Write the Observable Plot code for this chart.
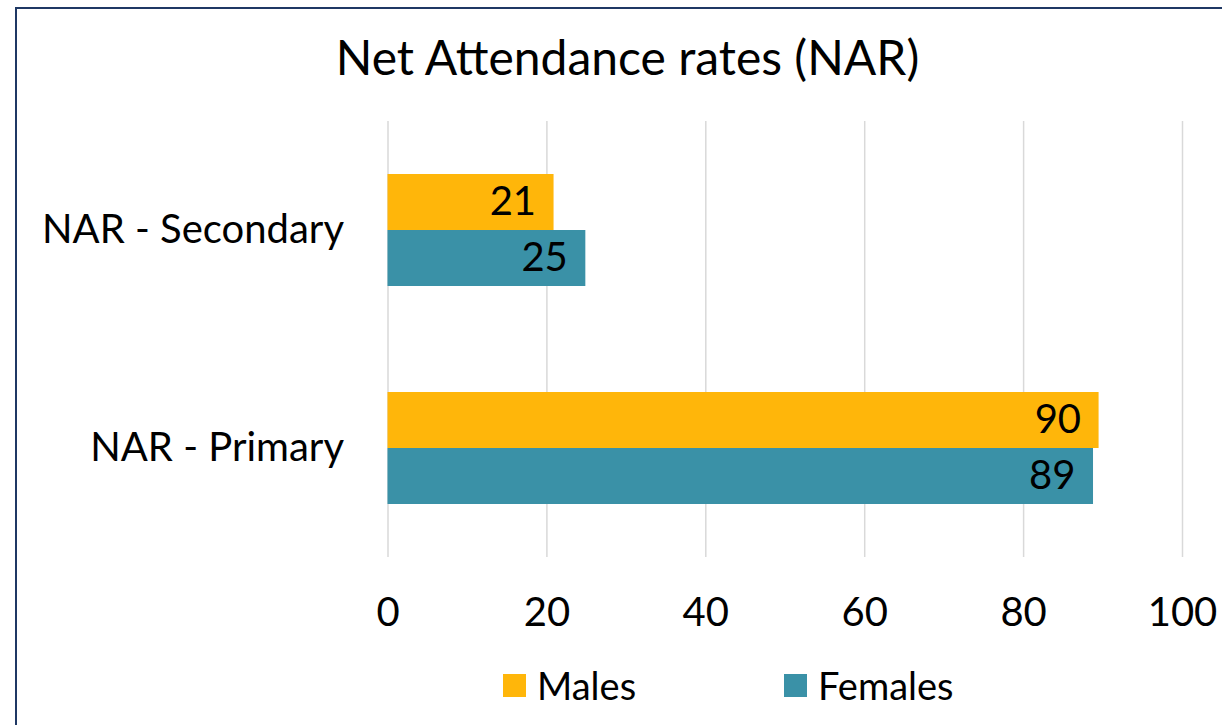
<!DOCTYPE html>
<html>
<head>
<meta charset="utf-8">
<script src="https://cdn.jsdelivr.net/npm/d3@7"></script>
<script src="https://cdn.jsdelivr.net/npm/@observablehq/plot@0.6"></script>
<style>
  html, body { margin: 0; padding: 0; width: 1222px; height: 725px; overflow: hidden; background: #fff; font-family: Lato, "Open Sans", sans-serif; }
  #frame { position: absolute; left: 15px; top: 7px; width: 1400px; height: 900px; border-left: 2px solid #1F3864; border-top: 2px solid #1F3864; }
  #title { position: absolute; left: 0; width: 1255px; top: 33px; text-align: center; font-size: 48px; line-height: 48px; color: #000; white-space: nowrap; }
  #chart { position: absolute; left: 0; top: 100px; }
  .leg { position: absolute; top: 666px; font-size: 38px; line-height: 38px; color: #000; white-space: nowrap; }
  .sw { position: absolute; top: 674px; width: 23px; height: 23px; }
</style>
</head>
<body>
<div id="frame"></div>
<div id="title"></div>
<div id="chart"></div>
<div id="legend"></div>
<script>
const title = "Net Attendance rates (NAR)";
const categories = ["NAR - Secondary", "NAR - Primary"];
const series = ["Males", "Females"];
const males = [20.9, 89.5];
const females = [24.9, 88.8];
const xTicks = [0, 20, 40, 60, 80, 100];
const colors = ["#FFB60A", "#3A91A7"];

document.getElementById("title").textContent = title;

const data = [];
categories.forEach((c, i) => {
  data.push({category: c, series: series[0], value: males[i]});
  data.push({category: c, series: series[1], value: females[i]});
});

const chart = Plot.plot({
  width: 1222,
  height: 540,
  marginTop: 20,
  marginBottom: 83,
  marginLeft: 387.5,
  marginRight: 40,
  style: {fontFamily: "Lato, 'Open Sans', sans-serif", fontSize: "40px", color: "#000", background: "transparent"},
  x: {domain: [0, 100]},
  y: {domain: series, paddingInner: 0, paddingOuter: 0.925},
  fy: {domain: categories, padding: 0},
  color: {domain: series, range: colors},
  marks: [
    Plot.ruleX(xTicks, {x: d => d, stroke: "#D9D9D9", strokeWidth: 1.5}),
    Plot.barX(data, {fy: "category", y: "series", x: "value", fill: "series"}),
    Plot.text(data, {fy: "category", y: "series", x: "value", text: d => String(Math.round(d.value)), textAnchor: "end", dx: -18, fill: "#000", fontSize: 40}),
    Plot.axisX({ticks: xTicks, tickSize: 0, tickPadding: 40, fontSize: 40, anchor: "bottom", label: null, facetAnchor: "bottom"}),
    Plot.axisFy({tickSize: 0, tickPadding: 44, fontSize: 40, anchor: "left", label: null}),
    Plot.axisY({ticks: [], tickSize: 0, label: null})
  ]
});
document.getElementById("chart").appendChild(chart);

const legend = document.getElementById("legend");
const swX = [503, 784];
const txtX = [537, 818];
series.forEach((s, i) => {
  const sw = document.createElement("div");
  sw.className = "sw";
  sw.style.left = swX[i] + "px";
  sw.style.background = colors[i];
  legend.appendChild(sw);
  const t = document.createElement("div");
  t.className = "leg";
  t.style.left = txtX[i] + "px";
  t.textContent = s;
  legend.appendChild(t);
});
</script>
</body>
</html>
